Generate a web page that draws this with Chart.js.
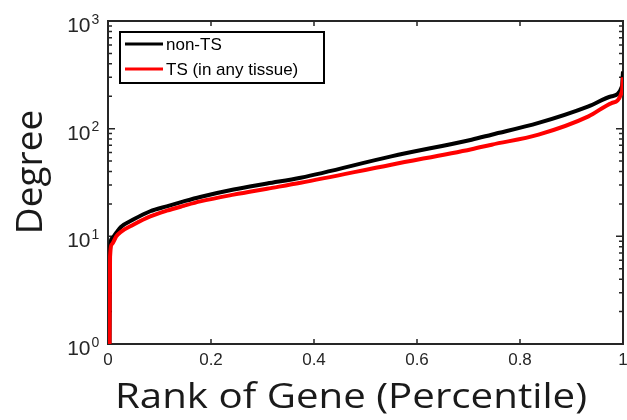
<!DOCTYPE html>
<html>
<head>
<meta charset="utf-8">
<script src="https://cdn.jsdelivr.net/npm/chart.js@4.4.1/dist/chart.umd.min.js"></script>
<style>
  html, body { margin: 0; padding: 0; background: #fff; }
</style>
</head>
<body>
<canvas id="degreeChart" width="627" height="420"></canvas>
<script>
// gene rank (percentile) and degree
const ranks = [0.003, 0.004, 0.008, 0.016, 0.025, 0.049, 0.082, 0.114, 0.147, 0.179, 0.244, 0.309, 0.374, 0.55, 0.706, 0.745, 0.836, 0.933, 0.978, 0.998, 1.0];
const nonTS = [1, 7.5, 9.6, 10.8, 12.2, 14.3, 17.1, 19.0, 21.1, 23.2, 27.2, 30.9, 35.0, 55.3, 79, 87.9, 113, 161, 200, 247, 340];
const ts = [1, 6.5, 8.5, 10.0, 11.0, 12.8, 15.3, 17.3, 19.2, 21.1, 24.4, 27.7, 31.4, 46.3, 64.5, 71, 88, 130, 173, 222, 300];

const seriesLabels = ["non-TS", "TS (in any tissue)"];
const xTickValues = [0, 0.2, 0.4, 0.6, 0.8, 1];
const xTickLabels = ["0", "0.2", "0.4", "0.6", "0.8", "1"];
const yTickExps = [0, 1, 2, 3];

const axisColor = "#262626";

const toPoints = (vals) => ranks.map((r, i) => ({ x: r, y: vals[i] }));

// box with inward ticks, like the original figure
const boxPlugin = {
  id: "box",
  beforeDatasetsDraw(chart) {
    const { ctx, chartArea } = chart;
    const { left, right, top, bottom } = chartArea;
    const xs = chart.scales.x;
    const ys = chart.scales.y;
    ctx.save();
    ctx.strokeStyle = axisColor;
    ctx.lineWidth = 1.5;
    ctx.beginPath();
    xTickValues.forEach((v) => {
      const px = xs.getPixelForValue(v);
      ctx.moveTo(px, bottom);
      ctx.lineTo(px, bottom - 5);
      ctx.moveTo(px, top);
      ctx.lineTo(px, top + 5);
    });
    for (let e = 0; e < 3; e++) {
      for (let m = 1; m <= 9; m++) {
        const py = ys.getPixelForValue(m * Math.pow(10, e));
        const len = m === 1 ? 7 : 4;
        ctx.moveTo(left, py);
        ctx.lineTo(left + len, py);
        ctx.moveTo(right, py);
        ctx.lineTo(right - len, py);
      }
    }
    ctx.stroke();
    ctx.lineWidth = 2;
    ctx.strokeRect(left, top, right - left, bottom - top);
    ctx.restore();
  },
  afterDraw(chart) {
    const { ctx } = chart;
    const ys = chart.scales.y;
    ctx.save();
    ctx.fillStyle = axisColor;

    // y tick labels as 10 with a raised exponent
    yTickExps.forEach((e) => {
      const py = ys.getPixelForValue(Math.pow(10, e));
      ctx.font = '21px "Liberation Sans"';
      ctx.textAlign = "right";
      ctx.textBaseline = "alphabetic";
      ctx.fillText("10", 90.5, py + 11);
      ctx.font = '14px "Liberation Sans"';
      ctx.textAlign = "left";
      ctx.fillText(String(e), 91.5, py + 2.5);
    });

    // axis titles
    ctx.fillStyle = "#1a1a1a";
    ctx.font = '35px "Open Sans"';
    ctx.textAlign = "center";
    ctx.textBaseline = "alphabetic";
    const xTitle = "Rank of Gene (Percentile)";
    const w = ctx.measureText(xTitle).width;
    ctx.save();
    ctx.translate(351, 408);
    ctx.scale(472 / w, 1);
    ctx.fillText(xTitle, 0, 0);
    ctx.restore();

    ctx.save();
    ctx.font = '37px "Open Sans"';
    ctx.translate(42, 172);
    ctx.rotate(-Math.PI / 2);
    ctx.fillText("Degree", 0, 0);
    ctx.restore();

    // legend box
    ctx.fillStyle = "#fff";
    ctx.fillRect(120, 32, 204, 51);
    ctx.strokeStyle = "#000";
    ctx.lineWidth = 2;
    ctx.strokeRect(120, 32, 204, 51);
    ctx.font = '17px "Liberation Sans"';
    ctx.textAlign = "left";
    ctx.textBaseline = "middle";
    chart.data.datasets.forEach((ds, i) => {
      const y = 44 + i * 25;
      ctx.strokeStyle = ds.borderColor;
      ctx.lineWidth = 3;
      ctx.beginPath();
      ctx.moveTo(125, y);
      ctx.lineTo(163, y);
      ctx.stroke();
      ctx.fillStyle = "#000";
      ctx.fillText(ds.label, 166, y + 1);
    });
    ctx.restore();
  },
};

const config = {
  type: "line",
  data: {
    datasets: [
      {
        label: seriesLabels[0],
        data: toPoints(nonTS),
        borderColor: "#000000",
        borderWidth: 4,
        pointRadius: 0,
        cubicInterpolationMode: "monotone",
        order: 1,
      },
      {
        label: seriesLabels[1],
        data: toPoints(ts),
        borderColor: "#ff0000",
        borderWidth: 4,
        pointRadius: 0,
        cubicInterpolationMode: "monotone",
        order: 0,
      },
    ],
  },
  options: {
    responsive: false,
    animation: false,
    devicePixelRatio: 1,
    layout: { padding: { top: 21, right: 4, left: 0, bottom: 0 } },
    plugins: {
      legend: { display: false },
      tooltip: { enabled: false },
    },
    scales: {
      x: {
        type: "linear",
        min: 0,
        max: 1,
        grid: { display: false, drawTicks: false },
        border: { display: false },
        afterBuildTicks: (s) => {
          s.ticks = xTickValues.map((v) => ({ value: v }));
        },
        afterFit: (s) => {
          s.height = 76;
          s.paddingLeft = 0;
          s.paddingRight = 0;
        },
        ticks: {
          callback: (v, i) => xTickLabels[i],
          font: { family: "Liberation Sans", size: 17 },
          color: axisColor,
          padding: 6,
          maxRotation: 0,
          autoSkip: false,
        },
      },
      y: {
        type: "logarithmic",
        min: 1,
        max: 1000,
        grid: { display: false, drawTicks: false },
        border: { display: false },
        ticks: { display: false },
        afterFit: (s) => {
          s.width = 108;
        },
      },
    },
  },
  plugins: [boxPlugin],
};

const degreeChart = new Chart(document.getElementById("degreeChart"), config);
</script>
</body>
</html>
